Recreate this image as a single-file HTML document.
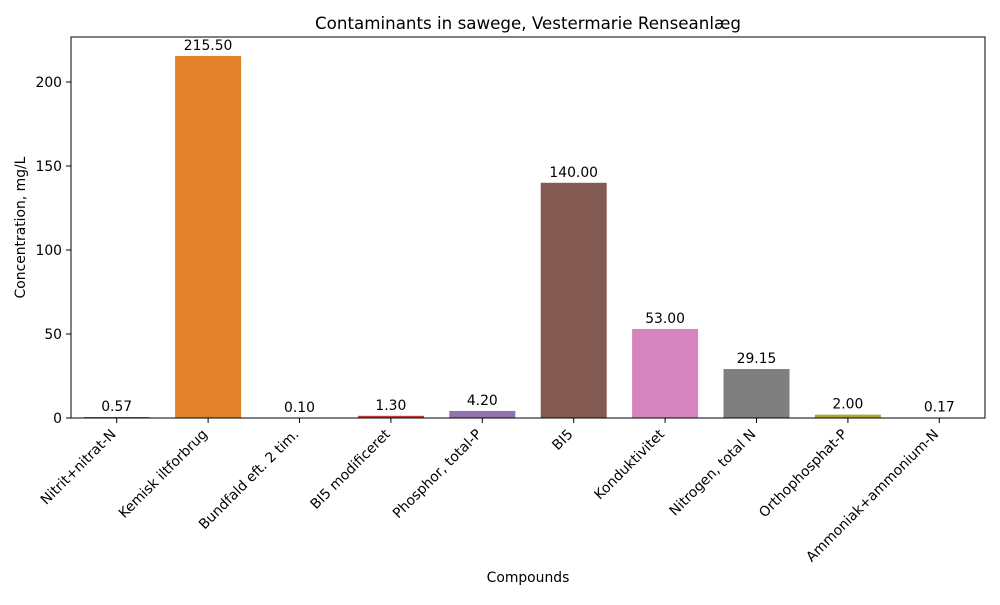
<!DOCTYPE html>
<html><head><meta charset="utf-8"><style>body{margin:0;background:#fff}svg{font-family:"DejaVu Sans","Liberation Sans",sans-serif}</style></head>
<body>
<svg id="chart" width="1000" height="600"></svg>
<script>
const categories=["Nitrit+nitrat-N","Kemisk iltforbrug","Bundfald eft. 2 tim.","BI5 modificeret","Phosphor, total-P","BI5","Konduktivitet","Nitrogen, total N","Orthophosphat-P","Ammoniak+ammonium-N"];
const values=[0.57,215.5,0.10,1.30,4.20,140.00,53.00,29.15,2.00,0.17];
const yTicks=[0,50,100,150,200];
const colors=["#3a7ab0","#e1812c","#3a923a","#c03d3e","#9372b2","#845b53","#d684bd","#7f7f7f","#a9aa35","#2ebdcd"];
const L=71,R=985,T=37,B=418;
const yMax=(B-T)/1.68;
const y=v=>B-v/yMax*(B-T);
const step=(R-L)/categories.length;
const x=i=>L+step*(i+0.5);
const bw=66;
const FS=13.9;
const NS="http://www.w3.org/2000/svg";
const svg=document.getElementById('chart');
function mk(t,a,txt){const e=document.createElementNS(NS,t);for(const k in a)e.setAttribute(k,a[k]);if(txt!=null)e.textContent=txt;svg.appendChild(e);return e;}
values.forEach((v,i)=>{
 const r=mk('rect',{x:x(i)-bw/2,y:y(v),width:bw,height:B-y(v),fill:colors[i]});
 
 
 const t=mk('text',{x:x(i),y:y(v)-6,'text-anchor':'middle','font-size':FS},v.toFixed(2));
 
 
 mk('line',{x1:x(i),x2:x(i),y1:B,y2:B+5,stroke:'#000'});
 const xl=mk('text',{transform:`translate(${x(i)},${B+17}) rotate(-45)`,'text-anchor':'end','font-size':FS},categories[i]);
 
 
});
yTicks.forEach(v=>{
 mk('line',{x1:L-5,x2:L,y1:y(v),y2:y(v),stroke:'#000'});
 const t=mk('text',{x:L-9,y:y(v)+5,'text-anchor':'end','font-size':FS},v);
 
 
});
const f=mk('rect',{x:L,y:T,width:R-L,height:B-T,fill:'none',stroke:'#000','stroke-width':1});


const ti=mk('text',{x:(L+R)/2,y:29,'text-anchor':'middle','font-size':16.7},"Contaminants in sawege, Vestermarie Renseanlæg");


const xt=mk('text',{x:(L+R)/2,y:582,'text-anchor':'middle','font-size':FS},"Compounds");


const yt=mk('text',{transform:`translate(25,${(T+B)/2}) rotate(-90)`,'text-anchor':'middle','font-size':FS},"Concentration, mg/L");


</script>
</body></html>
